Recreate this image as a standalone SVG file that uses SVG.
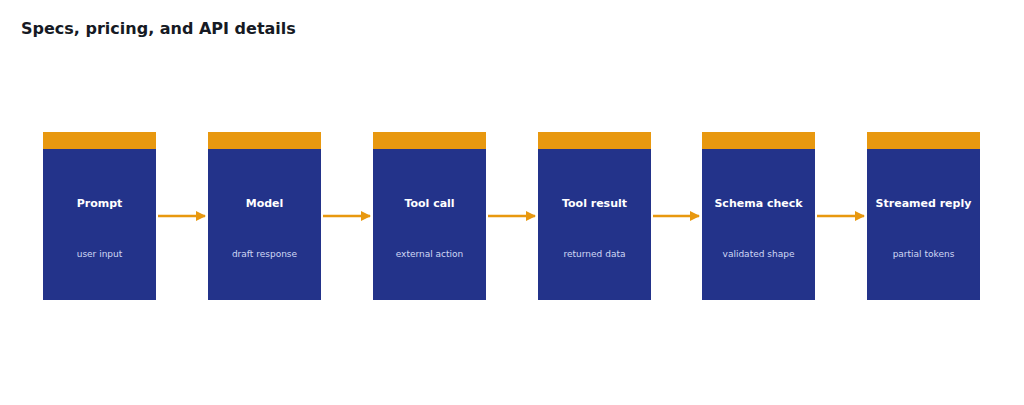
<svg xmlns="http://www.w3.org/2000/svg" width="1024" height="405" viewBox="0 0 1024 405">
<style>
.body{fill:#23338a}.band{fill:#e8980f}
.t{font-family:"DejaVu Sans",sans-serif;font-size:11px;font-weight:bold;fill:#ffffff;text-anchor:middle}
.s{font-family:"DejaVu Sans",sans-serif;font-size:9px;fill:#d0d8f5;text-anchor:middle}
.c{stroke:#e8980f;stroke-width:2.5;fill:none;marker-end:url(#ah)}
</style>
<defs><marker id="ah" viewBox="0 0 10 10" refX="9" refY="5" markerWidth="4" markerHeight="4" orient="auto" markerUnits="strokeWidth"><path d="M0,0L10,5L0,10z" fill="#e8980f"/></marker></defs>
<rect width="1024" height="405" fill="#ffffff"/>
<text x="21" y="34" font-family="DejaVu Sans,sans-serif" font-size="16" font-weight="bold" fill="#161a24">Specs, pricing, and API details</text>
<g id="n1"><rect class="body" x="43" y="132" width="113" height="168"/><rect class="band" x="43" y="132" width="113" height="17"/><text class="t" x="99.5" y="207">Prompt</text><text class="s" x="99.5" y="257">user input</text></g>
<g id="n2"><rect class="body" x="208" y="132" width="113" height="168"/><rect class="band" x="208" y="132" width="113" height="17"/><text class="t" x="264.5" y="207">Model</text><text class="s" x="264.5" y="257">draft response</text></g>
<g id="n3"><rect class="body" x="373" y="132" width="113" height="168"/><rect class="band" x="373" y="132" width="113" height="17"/><text class="t" x="429.5" y="207">Tool call</text><text class="s" x="429.5" y="257">external action</text></g>
<g id="n4"><rect class="body" x="538" y="132" width="113" height="168"/><rect class="band" x="538" y="132" width="113" height="17"/><text class="t" x="594.5" y="207">Tool result</text><text class="s" x="594.5" y="257">returned data</text></g>
<g id="n5"><rect class="body" x="702" y="132" width="113" height="168"/><rect class="band" x="702" y="132" width="113" height="17"/><text class="t" x="758.5" y="207">Schema check</text><text class="s" x="758.5" y="257">validated shape</text></g>
<g id="n6"><rect class="body" x="867" y="132" width="113" height="168"/><rect class="band" x="867" y="132" width="113" height="17"/><text class="t" x="923.5" y="207">Streamed reply</text><text class="s" x="923.5" y="257">partial tokens</text></g>
<g id="connectors">
<line class="c" x1="158" y1="216" x2="205" y2="216"/>
<line class="c" x1="323" y1="216" x2="370" y2="216"/>
<line class="c" x1="488" y1="216" x2="535" y2="216"/>
<line class="c" x1="653" y1="216" x2="699" y2="216"/>
<line class="c" x1="817" y1="216" x2="864" y2="216"/>
</g>
</svg>
